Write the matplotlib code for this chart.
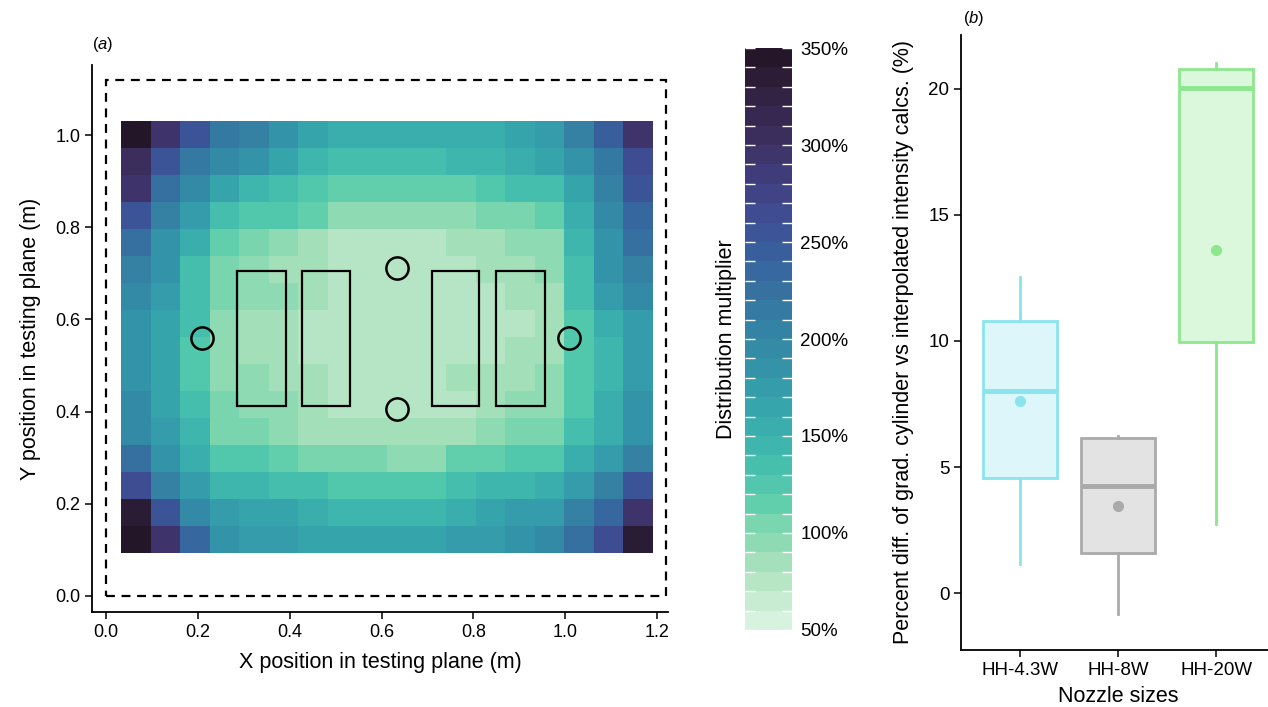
import matplotlib.pyplot as plt
import matplotlib.colors as mcolors
import matplotlib.patches as patches
import numpy as np
import seaborn as sns

plt.rcParams['font.family'] = ['Liberation Sans', 'DejaVu Sans']
plt.rcParams['mathtext.fontset'] = 'custom'
plt.rcParams['mathtext.rm'] = 'Liberation Sans'
plt.rcParams['mathtext.it'] = 'Liberation Sans:italic'

# ---- panel (a): distribution multiplier (%), rows top -> bottom, 18 columns
multiplier = np.array([
    [345, 290, 250, 215, 205, 185, 165, 150, 150, 150, 150, 155, 155, 165, 175, 208, 245, 290],
    [300, 255, 215, 195, 180, 160, 145, 135, 135, 135, 135, 145, 145, 155, 160, 185, 215, 265],
    [290, 225, 195, 160, 145, 138, 125, 115, 115, 115, 115, 115, 125, 135, 135, 165, 205, 250],
    [255, 205, 175, 135, 125, 120, 113, 95, 95, 95, 95, 95, 105, 105, 115, 150, 195, 230],
    [225, 185, 155, 115, 105, 95, 85, 75, 75, 75, 75, 85, 85, 95, 95, 145, 185, 222],
    [205, 185, 138, 105, 95, 85, 85, 75, 75, 75, 75, 75, 85, 85, 95, 135, 185, 205],
    [195, 175, 135, 105, 95, 95, 85, 75, 75, 75, 75, 75, 75, 85, 85, 130, 175, 195],
    [185, 160, 135, 95, 85, 85, 75, 75, 75, 75, 75, 75, 75, 75, 85, 125, 150, 175],
    [185, 160, 128, 95, 85, 85, 75, 75, 75, 75, 75, 75, 75, 85, 85, 125, 145, 175],
    [185, 160, 128, 95, 95, 85, 85, 75, 75, 75, 75, 85, 85, 85, 95, 125, 145, 175],
    [195, 163, 135, 105, 95, 95, 85, 75, 75, 75, 75, 75, 85, 95, 95, 125, 155, 185],
    [195, 175, 145, 105, 105, 95, 85, 85, 85, 85, 85, 85, 95, 105, 105, 135, 155, 185],
    [225, 185, 155, 125, 125, 115, 105, 105, 105, 98, 98, 115, 115, 125, 125, 150, 175, 205],
    [260, 205, 175, 145, 145, 135, 135, 125, 125, 125, 125, 135, 145, 145, 150, 178, 205, 250],
    [335, 255, 195, 175, 160, 160, 155, 148, 148, 145, 145, 155, 165, 175, 178, 205, 230, 290],
    [340, 290, 230, 185, 178, 178, 165, 165, 165, 165, 165, 178, 178, 185, 195, 225, 265, 335],
])
grid_x = [0.033, 1.19]
grid_y = [0.093, 1.03]

rect_x0 = [0.286, 0.427, 0.709, 0.850]
rect_x1 = [0.391, 0.532, 0.813, 0.955]
rect_y0 = [0.412, 0.412, 0.412, 0.412]
rect_y1 = [0.706, 0.706, 0.706, 0.706]

circle_x = [0.209, 0.633, 0.633, 1.009]
circle_y = [0.559, 0.711, 0.406, 0.559]

plane_w, plane_h = 1.22, 1.12

# ---- panel (b): box summaries
nozzles = ['HH-4.3W', 'HH-8W', 'HH-20W']
whislo = [1.14, -0.82, 2.75]
q1 = [4.58, 1.59, 9.97]
med = [8.0, 4.25, 20.04]
q3 = [10.81, 6.15, 20.8]
whishi = [12.53, 6.22, 21.02]
means = [7.63, 3.47, 13.62]
edge_cols = ['#8ae4ee', '#aaaaaa', '#8de78d']
fill_cols = ['#ddf6f9', '#e3e3e3', '#dcf8dc']

fig = plt.figure(figsize=(12.68, 7.07), dpi=100)

# heatmap
ax = fig.add_axes([0.0726, 0.1344, 0.4543, 0.7737])
bounds = np.arange(50, 351, 10)
mako = sns.color_palette('mako', as_cmap=True)
cmap = mcolors.ListedColormap(mako(np.linspace(0.985, 0.1, len(bounds) - 1)))
norm = mcolors.BoundaryNorm(bounds, cmap.N)
im = ax.imshow(multiplier, cmap=cmap, norm=norm, origin='upper', aspect='auto',
               interpolation='nearest', extent=[grid_x[0], grid_x[1], grid_y[0], grid_y[1]])

ax.add_patch(patches.Rectangle((0, 0), plane_w, plane_h, fill=False, ec='black',
                               lw=1.6, ls=(0, (4, 3))))
for x0, x1, y0, y1 in zip(rect_x0, rect_x1, rect_y0, rect_y1):
    ax.add_patch(patches.Rectangle((x0, y0), x1 - x0, y1 - y0, fill=False, ec='black', lw=1.6))
ax.plot(circle_x, circle_y, 'o', ms=16, mfc='none', mec='black', mew=1.8)

ax.set_xlim(-0.0305, 1.224)
ax.set_ylim(-0.0347, 1.152)
ax.set_xticks(np.arange(0, 1.21, 0.2))
ax.set_yticks(np.arange(0, 1.01, 0.2))
ax.set_xticklabels([f'{v:.1f}' for v in np.arange(0, 1.21, 0.2)])
ax.set_yticklabels([f'{v:.1f}' for v in np.arange(0, 1.01, 0.2)])
for s in ['top', 'right']:
    ax.spines[s].set_visible(False)
for s in ['left', 'bottom']:
    ax.spines[s].set_linewidth(1.3)
ax.tick_params(labelsize=13, length=5, width=1.1, colors='black')
ax.set_xlabel('X position in testing plane (m)', fontsize=15.5, labelpad=8)
ax.set_ylabel('Y position in testing plane (m)', fontsize=15.5, labelpad=10)
ax.text(-0.0305, 1.175, r'($\it{a}$)', fontsize=12, ha='left', va='bottom')

# colorbar
cax = fig.add_axes([0.5875, 0.109, 0.037, 0.823])
cb = fig.colorbar(im, cax=cax, ticks=np.arange(50, 351, 50))
cb.outline.set_visible(False)
cb.ax.minorticks_off()
cb.ax.set_yticklabels([f'{v}%' for v in range(50, 351, 50)])
cb.ax.tick_params(which='both', length=0, labelsize=13.5, pad=6)
cb.ax.yaxis.set_label_position('left')
cb.set_label('Distribution multiplier', fontsize=15.5, labelpad=6)
cb.ax.hlines(bounds, 0, 0.22, colors='white', lw=1, transform=cb.ax.get_yaxis_transform())
cb.ax.hlines(bounds, 0.78, 1, colors='white', lw=1, transform=cb.ax.get_yaxis_transform())

# boxplot
bx = fig.add_axes([0.758, 0.0806, 0.2476, 0.87])
stats = [dict(label=n, whislo=a, q1=b, med=c, q3=d, whishi=e, mean=m)
         for n, a, b, c, d, e, m in zip(nozzles, whislo, q1, med, q3, whishi, means)]
res = bx.bxp(stats, positions=[1, 2, 3], widths=0.75, patch_artist=True,
             showfliers=False, showcaps=False, showmeans=True)
for i in range(3):
    res['boxes'][i].set(facecolor=fill_cols[i], edgecolor=edge_cols[i], lw=2)
    res['medians'][i].set(color=edge_cols[i], lw=3.5, solid_capstyle='butt')
    res['means'][i].set(marker='o', markerfacecolor=edge_cols[i], markeredgecolor=edge_cols[i], markersize=7)
    for w in res['whiskers'][2 * i:2 * i + 2]:
        w.set(color=edge_cols[i], lw=2)
bx.set_xlim(0.4, 3.6)
bx.set_ylim(-2.26, 22.14)
bx.set_yticks([0, 5, 10, 15, 20])
for s in ['top', 'right']:
    bx.spines[s].set_visible(False)
for s in ['left', 'bottom']:
    bx.spines[s].set_linewidth(1.3)
bx.tick_params(labelsize=13.5, length=5, width=1.1, colors='black')
bx.set_xlabel('Nozzle sizes', fontsize=15.5, labelpad=5)
bx.set_ylabel('Percent diff. of grad. cylinder vs interpolated intensity calcs. (%)',
              fontsize=15.5, labelpad=10)
bx.text(0.42, 22.4, r'($\it{b}$)', fontsize=12, ha='left', va='bottom')

fig.savefig('out.png', dpi=100)
